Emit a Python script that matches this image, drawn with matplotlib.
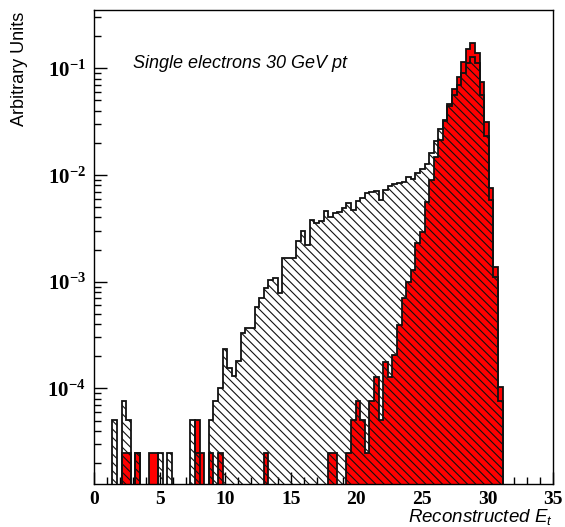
import numpy as np
import matplotlib
matplotlib.use("Agg")
import matplotlib.pyplot as plt
from matplotlib.ticker import FixedLocator, FuncFormatter, LogLocator, MultipleLocator, NullFormatter

plt.rcParams['mathtext.fontset'] = 'custom'
plt.rcParams['mathtext.bf'] = 'Liberation Serif:bold'
plt.rcParams['mathtext.rm'] = 'Liberation Sans'
plt.rcParams['mathtext.it'] = 'Liberation Sans:italic'
plt.rcParams['hatch.linewidth'] = 0.8

# ---- data (100 bins, 0..35) ----
x_min, x_max, n_bins = 0.0, 35.0, 100

all_electrons = [
    0, 0, 0, 0, 5.1e-5, 0, 7.6e-5, 5.1e-5, 0, 2.5e-5,
    0, 0, 0, 0, 2.5e-5, 0, 2.5e-5, 0, 0, 0,
    0, 5.1e-5, 2.5e-5, 0, 0, 5.1e-5, 7.6e-5, 1.01e-4, 2.32e-4, 1.54e-4,
    1.30e-4, 1.82e-4, 3.32e-4, 3.65e-4, 3.65e-4, 5.82e-4, 6.98e-4, 8.67e-4, 1.035e-3, 1.075e-3,
    7.82e-4, 1.655e-3, 1.655e-3, 1.655e-3, 2.40e-3, 2.99e-3, 2.20e-3, 3.78e-3, 3.57e-3, 3.70e-3,
    4.62e-3, 4.06e-3, 4.37e-3, 4.53e-3, 4.93e-3, 5.42e-3, 4.70e-3, 5.70e-3, 6.08e-3, 6.78e-3,
    7.00e-3, 7.08e-3, 5.82e-3, 7.23e-3, 7.88e-3, 8.22e-3, 8.41e-3, 8.65e-3, 9.57e-3, 9.17e-3,
    1.043e-2, 1.138e-2, 1.27e-2, 1.61e-2, 2.08e-2, 2.68e-2, 3.21e-2, 4.43e-2, 5.62e-2, 6.97e-2,
    8.97e-2, 0.1114, 0.1267, 0.1114, 5.62e-2, 2.32e-2, 5.82e-3, 1.112e-3, 7.65e-5, 0,
    0, 0, 0, 0, 0, 0, 0, 0, 0, 0,
]

selected_electrons = [
    0, 0, 0, 0, 0, 0, 2.5e-5, 2.5e-5, 0, 2.5e-5,
    0, 0, 2.5e-5, 2.5e-5, 0, 0, 0, 0, 0, 0,
    0, 0, 5.1e-5, 2.5e-5, 0, 2.5e-5, 0, 2.5e-5, 0, 0,
    0, 0, 0, 0, 0, 0, 0, 2.5e-5, 0, 0,
    0, 0, 0, 0, 0, 0, 0, 0, 0, 0,
    0, 2.5e-5, 2.5e-5, 0, 0, 2.5e-5, 5.1e-5, 7.6e-5, 5.1e-5, 2.5e-5,
    7.6e-5, 1.285e-4, 5.1e-5, 1.775e-4, 1.285e-4, 2.05e-4, 3.92e-4, 6.98e-4, 1.0e-3, 1.285e-3,
    2.30e-3, 2.94e-3, 5.61e-3, 8.97e-3, 1.48e-2, 2.13e-2, 3.27e-2, 4.63e-2, 6.35e-2, 8.24e-2,
    0.1138, 0.1518, 0.1714, 0.140, 7.48e-2, 3.16e-2, 7.50e-3, 1.38e-3, 1.02e-4, 0,
    0, 0, 0, 0, 0, 0, 0, 0, 0, 0,
]

x_ticks = [0, 5, 10, 15, 20, 25, 30, 35]
y_ticks = [1e-4, 1e-3, 1e-2, 1e-1]
y_lim = (1.27e-5, 0.352)

edges = np.linspace(x_min, x_max, n_bins + 1)

fig = plt.figure(figsize=(5.65, 5.27), dpi=100)
ax = fig.add_axes([0.1664, 0.0816, 0.9788 - 0.1664, 0.981 - 0.0816])
ax.set_yscale('log')

ax.stairs(selected_electrons, edges, baseline=1e-9, fill=True,
          facecolor='#ff0000', edgecolor='none', zorder=2)
ax.stairs(selected_electrons, edges, baseline=1e-9, fill=False,
          edgecolor='#111111', linewidth=1.3, zorder=4)
ax.stairs(all_electrons, edges, baseline=1e-9, fill=True,
          facecolor='none', edgecolor='#111111', hatch='\\\\\\\\', linewidth=1.3, zorder=3)

ax.set_xlim(x_min, x_max)
ax.set_ylim(*y_lim)

ax.xaxis.set_major_locator(FixedLocator(x_ticks))
ax.xaxis.set_minor_locator(MultipleLocator(1))
ax.yaxis.set_major_locator(FixedLocator(y_ticks))
ax.yaxis.set_minor_locator(LogLocator(base=10, subs=np.arange(2, 10)))
ax.yaxis.set_minor_formatter(NullFormatter())

def yfmt(v, pos):
    e = int(round(np.log10(v)))
    return r'$\mathbf{10^{%d}}$' % e

ax.yaxis.set_major_formatter(FuncFormatter(yfmt))
ax.xaxis.set_major_formatter(FuncFormatter(lambda v, p: '%d' % v))

ax.tick_params(axis='both', which='both', direction='in', top=False, right=False)
ax.tick_params(axis='both', which='major', length=9, width=1.0)
ax.tick_params(axis='both', which='minor', length=5, width=1.0)
ax.tick_params(axis='x', which='major', pad=5)
ax.tick_params(axis='y', which='major', pad=6)
for lab in ax.get_xticklabels():
    lab.set_fontfamily('Liberation Serif')
    lab.set_fontweight('bold')
    lab.set_fontsize(14)
for lab in ax.get_yticklabels():
    lab.set_fontsize(15)

for sp in ax.spines.values():
    sp.set_linewidth(1.0)
    sp.set_zorder(5)

fig.text(20 / 565, 1 - 12 / 527, 'Arbitrary Units', rotation=90, ha='center', va='top',
         fontsize=13, family='Liberation Sans')
fig.text(553 / 565, 1 - 517 / 527, r'Reconstructed $E_t$', ha='right', va='center',
         fontsize=13.5, family='Liberation Sans', style='italic')
fig.text(133 / 565, 1 - 63 / 527, 'Single electrons 30 GeV pt', ha='left', va='center',
         fontsize=13, family='Liberation Sans', style='italic')

fig.savefig('out.png', dpi=100)
